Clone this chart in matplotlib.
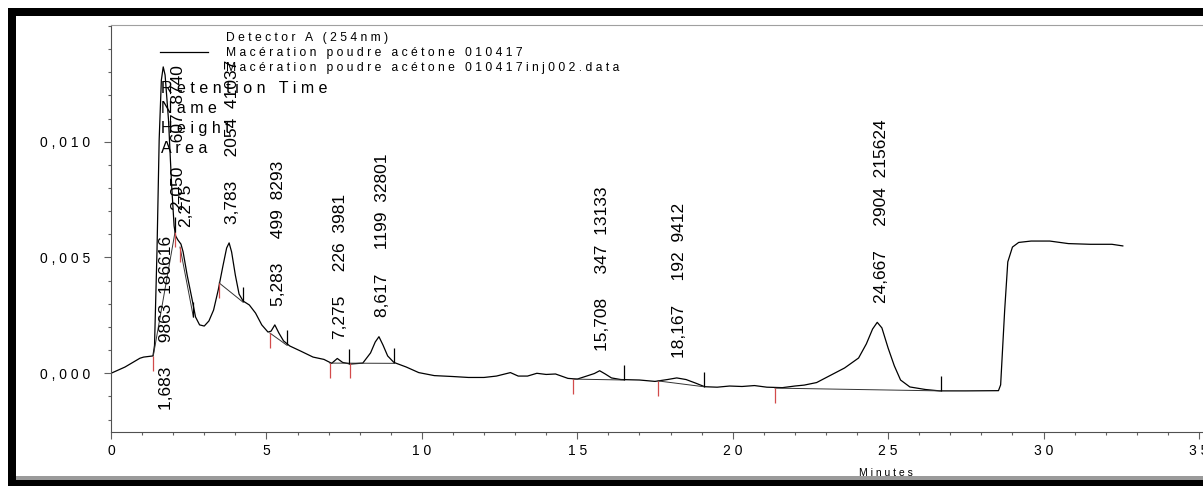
import numpy as np
import matplotlib.pyplot as plt
from matplotlib.patches import Rectangle
from matplotlib.lines import Line2D
from matplotlib.ticker import MultipleLocator, FixedLocator
import matplotlib.transforms as mtransforms

plt.rcParams['font.family'] = ['Liberation Sans', 'DejaVu Sans']

# detector trace (minutes, AU)
time_min = [0.0, 0.45, 0.93, 1.05, 1.35, 1.40, 1.48, 1.55, 1.62, 1.68, 1.74, 1.85, 1.95,
            2.03, 2.08, 2.15, 2.25, 2.32, 2.45, 2.60, 2.72, 2.85, 3.0, 3.15, 3.30, 3.45,
            3.60, 3.72, 3.80, 3.88, 4.00, 4.12, 4.25, 4.45, 4.65, 4.85, 5.05, 5.15, 5.27,
            5.40, 5.55, 5.75, 6.1, 6.5, 6.85, 7.1, 7.28, 7.45, 7.7, 8.1, 8.35, 8.5, 8.62,
            8.75, 8.9, 9.1, 9.5, 9.9, 10.4, 11.0, 11.5, 12.0, 12.4, 12.85, 13.1, 13.4,
            13.7, 14.0, 14.3, 14.7, 15.0, 15.3, 15.55, 15.72, 15.9, 16.1, 16.4, 17.0,
            17.5, 17.9, 18.2, 18.5, 18.8, 19.1, 19.5, 19.9, 20.3, 20.7, 21.1, 21.6, 22.0,
            22.3, 22.7, 23.1, 23.6, 24.05, 24.3, 24.5, 24.65, 24.8, 25.0, 25.2, 25.4,
            25.7, 26.2, 26.66, 27.5, 28.55, 28.62, 28.75, 28.85, 29.0, 29.2, 29.6, 30.2,
            30.8, 31.5, 32.2, 32.55]
signal = [0.0, 0.00027, 0.00065, 0.0007, 0.00075, 0.0012, 0.0053, 0.0101, 0.01266,
          0.01323, 0.01288, 0.01094, 0.00813, 0.00636, 0.00593, 0.00576, 0.00558,
          0.00524, 0.00424, 0.00325, 0.00243, 0.00209, 0.00204, 0.00226, 0.00273,
          0.0036, 0.00463, 0.00541, 0.00563, 0.00524, 0.00424, 0.00342, 0.00312,
          0.00295, 0.0026, 0.00209, 0.00178, 0.00182, 0.00209, 0.00174, 0.0014,
          0.00118, 0.00096, 0.0007, 0.0006, 0.00043, 0.00064, 0.00047, 0.0004, 0.00044,
          0.00088, 0.00135, 0.00158, 0.00122, 0.00075, 0.00047, 0.00027, 0.00003,
          -0.0001, -0.00014, -0.00018, -0.00018, -0.00012, 0.00003, -0.00012, -0.00012,
          0.0, -0.00005, -0.00003, -0.00022, -0.00025, -0.00012, -0.00001, 0.00011,
          -0.00003, -0.0002, -0.00027, -0.00029, -0.00035, -0.00027, -0.0002, -0.00027,
          -0.00042, -0.00058, -0.0006, -0.00055, -0.00057, -0.00053, -0.0006, -0.00062,
          -0.00055, -0.00051, -0.0004, -0.00012, 0.00023, 0.00066, 0.00127, 0.00191,
          0.0022, 0.00196, 0.00109, 0.00032, -0.00029, -0.00059, -0.0007, -0.00076,
          -0.00076, -0.00075, -0.0005, 0.00273, 0.00481, 0.00545, 0.00565, 0.00571,
          0.00571, 0.0056, 0.00557, 0.00557, 0.0055]

# integration: peak start (red) and end (black) marks, baselines
start_t = [1.36, 2.05, 2.22, 3.48, 5.11, 7.04, 7.69, 14.87, 17.6, 21.36]
start_y = [0.00075, 0.0061, 0.00545, 0.0039, 0.00174, 0.00044, 0.00044, -0.00025, -0.00033, -0.00064]
end_t = [2.06, 2.65, 4.24, 5.65, 7.66, 9.11, 16.51, 19.07, 26.69]
end_y = [0.0061, 0.00243, 0.00308, 0.00122, 0.0004, 0.00043, -0.00029, -0.00058, -0.00076]
baseline_segments = [
    [(1.36, 0.00075), (2.06, 0.0061)],
    [(2.22, 0.00545), (2.65, 0.00243)],
    [(3.48, 0.0039), (4.24, 0.00308)],
    [(5.11, 0.00174), (5.65, 0.00122)],
    [(7.04, 0.00044), (9.11, 0.00043)],
    [(14.87, -0.00025), (16.51, -0.00029)],
    [(17.6, -0.00033), (19.07, -0.00058)],
    [(21.36, -0.00064), (26.69, -0.00076)],
]

# peak table
peak_rt = [1.683, 2.050, 2.275, 3.783, 5.283, 7.275, 8.617, 15.708, 18.167, 24.667]
peak_height = ['9863', '607', '', '2054', '499', '226', '1199', '347', '192', '2904']
peak_area = ['186616', '8740', '', '41037', '8293', '3981', '32801', '13133', '9412', '215624']

y_ticks = [0.0, 0.005, 0.010]
x_ticks = [0, 5, 10, 15, 20, 25, 30, 35]


def spaced(s):
    return ' '.join(s)


W, H = 1203, 486
fig = plt.figure(figsize=(W / 100, H / 100), dpi=100)
ax = fig.add_axes([111 / W, 54 / H, 1092 / W, 407 / H])
ax.set_xlim(0, 35.13)
ax.set_ylim(-0.002535, 0.015039)

ax.plot(time_min, signal, color='black', lw=0.9)

for seg in baseline_segments:
    (x0, y0), (x1, y1) = seg
    ax.plot([x0, x1], [y0, y1], color='#333333', lw=0.7)

tick_len = 0.00065
ax.vlines(start_t, np.array(start_y) - tick_len, start_y, color='#d24b4b', lw=0.9)
ax.vlines(end_t, end_y, np.array(end_y) + tick_len, color='black', lw=0.9)

# rotated labels: retention time, height, area
for rt, h, a in zip(peak_rt, peak_height, peak_area):
    label = f'{rt:.3f}'.replace('.', ',')
    if h:
        label += '     ' + h + '  ' + a
    if rt < 1.7:
        y0 = -0.00158
        dy = 0
    else:
        y0 = np.interp(rt, time_min, signal)
        dy = 20
    trans = mtransforms.offset_copy(ax.transData, fig=fig, x=-4, y=dy, units='dots')
    ax.text(rt, y0, label, transform=trans, rotation=90, ha='left', va='bottom',
            fontsize=12.5, color='black')

# axes styling
ax.spines['right'].set_visible(False)
ax.spines['top'].set_color('#a0a0a0')
ax.spines['left'].set_color('#505050')
ax.spines['bottom'].set_color('#505050')
ax.xaxis.set_major_locator(FixedLocator(x_ticks))
ax.xaxis.set_minor_locator(MultipleLocator(1))
ax.yaxis.set_major_locator(FixedLocator(y_ticks))
ax.yaxis.set_minor_locator(MultipleLocator(0.001))
ax.set_xticklabels([spaced(str(v)) for v in x_ticks])
ax.set_yticklabels([spaced(f'{v:.3f}'.replace('.', ',')) for v in y_ticks])
ax.tick_params(axis='both', which='major', direction='out', length=5, width=0.8,
               color='#606060', labelsize=10)
ax.tick_params(axis='both', which='minor', direction='out', length=2.5, width=0.8,
               color='#606060')
ax.tick_params(axis='y', which='major', pad=10)
ax.tick_params(axis='x', which='major', pad=3.5)


def fig_xy(x, y):
    return x / W, 1 - y / H


fig.text(*fig_xy(886, 473), spaced('Minutes'), fontsize=7.5, ha='center', va='center')

# legend block
fig.add_artist(Line2D([160 / W, 208 / W], [1 - 52 / H, 1 - 52 / H], color='black', lw=0.9))
legend_lines = ['Detector A (254nm)', 'Macération poudre acétone 010417',
                'Macération poudre acétone 010417inj002.data']
for i, s in enumerate(legend_lines):
    fig.text(*fig_xy(226, 41 + i * 15), spaced(s), fontsize=8.7, ha='left', va='baseline')

for i, s in enumerate(['Retention Time', 'Name', 'Height', 'Area']):
    fig.text(*fig_xy(161, 93 + i * 20), spaced(s), fontsize=11.5, ha='left', va='baseline')


# window frame
def band(x0, y0, x1, y1, color):
    fig.add_artist(Rectangle((x0 / W, 1 - y1 / H), (x1 - x0) / W, (y1 - y0) / H,
                             transform=fig.transFigure, facecolor=color, edgecolor='none'))


band(8, 8, W, 16, 'black')
band(8, 8, 16, H, 'black')
band(16, 476, W, 480, '#9a9a9a')
band(8, 480, W, H, 'black')

fig.savefig('out.png', dpi=100)
